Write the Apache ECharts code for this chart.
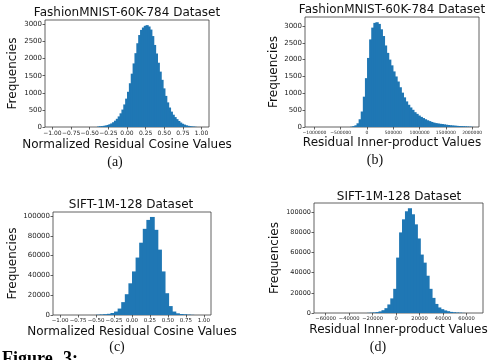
<!DOCTYPE html>
<html>
<head>
<meta charset="utf-8">
<script src="https://cdn.jsdelivr.net/npm/echarts@6/dist/echarts.min.js"></script>
<style>
  html, body { margin: 0; padding: 0; background: #fff; }
  #chart { width: 489px; height: 360px; }
</style>
</head>
<body>
<div id="chart"></div>
<script>
// ---- Histogram data: first bin edge, bin width, counts per bin ----
const fashionCosStart = -0.4;
const fashionCosBin = 0.025;
const fashionCosCounts = [15, 20, 25, 35, 45, 60, 80, 105, 140, 185,
  240, 310, 400, 510, 660, 830, 1030, 1280, 1560, 1860,
  2160, 2450, 2690, 2840, 2910, 2960, 2980, 2940, 2850, 2660,
  2400, 2150, 1880, 1620, 1380, 1130, 910, 720, 570, 450,
  360, 290, 230, 175, 130, 95, 70, 50, 35, 25,
  15, 10, 5];

const fashionIpStart = -320000;
const fashionIpBin = 40000;
const fashionIpCounts = [10, 25, 50, 110, 230, 460, 900, 1450, 2050, 2600,
  2950, 3090, 3110, 3060, 2900, 2700, 2420, 2200, 2000, 1830,
  1650, 1500, 1350, 1180, 1020, 880, 760, 660, 580, 510,
  440, 390, 340, 300, 265, 230, 200, 175, 150, 130,
  115, 105, 95, 88, 78, 68, 60, 52, 45, 40,
  35, 30, 26, 22, 18, 14, 10, 6];

const siftCosStart = -0.5;
const siftCosBin = 0.05;
const siftCosCounts = [300, 500, 800, 1200, 2000, 3500, 6500, 13000, 21000, 32000,
  44000, 58000, 73000, 87000, 96000, 99000, 86000, 66000, 44000, 22000,
  9000, 3500, 1700, 1000, 700, 400, 200];

const siftIpStart = -25000;
const siftIpBin = 2500;
const siftIpCounts = [150, 300, 500, 900, 1600, 2800, 4800, 8500, 14500, 24000,
  55000, 80000, 93000, 101000, 104000, 98000, 88000, 74000, 58000, 50000,
  37000, 24000, 15000, 9000, 5500, 3800, 2600, 1800, 1100, 700,
  450, 300, 150];

// ---- Tick values ----
const cosTicks = [-1, -0.75, -0.5, -0.25, 0, 0.25, 0.5, 0.75, 1];
const fashionIpTicks = [-1000000, -500000, 0, 500000, 1000000, 1500000, 2000000];
const siftIpTicks = [-60000, -40000, -20000, 0, 20000, 40000, 60000];
const fashionFreqTicks = [0, 500, 1000, 1500, 2000, 2500, 3000];
const siftFreqTicks = [0, 20000, 40000, 60000, 80000, 100000];

// ---- Texts ----
const panelTitles = ['FashionMNIST-60K-784 Dataset', 'FashionMNIST-60K-784 Dataset',
  'SIFT-1M-128 Dataset', 'SIFT-1M-128 Dataset'];
const xTitles = ['Normalized Residual Cosine Values', 'Residual Inner-product Values',
  'Normalized Residual Cosine Values', 'Residual Inner-product Values'];
const yTitle = 'Frequencies';
const panelTags = ['(a)', '(b)', '(c)', '(d)'];

const BAR_COLOR = '#1f77b4';
const SANS = 'DejaVu Sans';
const SERIF = 'Liberation Serif';
const MINUS = '\u2212';

function toBins(start, width, counts) {
  return counts.map((c, i) => [start + i * width, start + (i + 1) * width, c]);
}
function fmtFixed2(v) {
  const s = Math.abs(v).toFixed(2);
  return v < 0 ? MINUS + s : s;
}
function fmtInt(v) {
  const s = String(Math.abs(Math.round(v)));
  return v < 0 ? MINUS + s : s;
}

const panels = [
  { grid: { left: 45, top: 20, width: 164, height: 107 },
    data: toBins(fashionCosStart, fashionCosBin, fashionCosCounts),
    xMin: -1.1, xMax: 1.1, yMax: 3130,
    xTicks: cosTicks, yTicks: fashionFreqTicks, xFmt: fmtFixed2,
    xFont: 6, yFont: 7, xGap: 12, yGap: 26,
    title: [127, 13], tag: [115, 162] },
  { grid: { left: 305, top: 17, width: 174, height: 110 },
    data: toBins(fashionIpStart, fashionIpBin, fashionIpCounts),
    xMin: -1180000, xMax: 2130000, yMax: 3265,
    xTicks: fashionIpTicks, yTicks: fashionFreqTicks, xFmt: fmtInt,
    xFont: 4.5, yFont: 7, xGap: 10, yGap: 24,
    title: [392, 10], tag: [375, 160] },
  { grid: { left: 53, top: 212, width: 158, height: 103 },
    data: toBins(siftCosStart, siftCosBin, siftCosCounts),
    xMin: -1.1, xMax: 1.1, yMax: 104000,
    xTicks: cosTicks, yTicks: siftFreqTicks, xFmt: fmtFixed2,
    xFont: 5.5, yFont: 7, xGap: 11, yGap: 34,
    title: [131, 205], tag: [117, 347] },
  { grid: { left: 314, top: 203, width: 169, height: 110 },
    data: toBins(siftIpStart, siftIpBin, siftIpCounts),
    xMin: -70000, xMax: 74000, yMax: 109200,
    xTicks: siftIpTicks, yTicks: siftFreqTicks, xFmt: fmtInt,
    xFont: 5.2, yFont: 6.5, xGap: 11, yGap: 33,
    title: [399, 197], tag: [378, 347] }
];

// One histogram bin: a rect from the bin's left edge to its right edge, from 0 up to its count.
function drawBin(params, api) {
  const top = api.coord([api.value(0), api.value(2)]);
  const base = api.coord([api.value(1), 0]);
  return {
    type: 'rect',
    shape: { x: top[0], y: top[1], width: base[0] - top[0] + 1.2, height: base[1] - top[1] },
    style: { fill: BAR_COLOR, stroke: null, lineWidth: 0, opacity: 1 },
    emphasisDisabled: true
  };
}

const frameColor = '#3a3a3a';
const option = {
  animation: false,
  backgroundColor: '#ffffff',
  grid: panels.map(p => Object.assign({
    show: true, borderColor: frameColor, borderWidth: 0.8,
    containLabel: false, outerBoundsMode: 'none'
  }, p.grid)),
  xAxis: panels.map((p, i) => ({
    gridIndex: i, type: 'value', min: p.xMin, max: p.xMax,
    splitLine: { show: false },
    axisLine: { show: false, onZero: false },
    axisTick: { show: true, length: 2.5, customValues: p.xTicks,
      lineStyle: { color: frameColor, width: 0.8 } },
    axisLabel: { customValues: p.xTicks, formatter: p.xFmt, fontSize: p.xFont,
      fontFamily: SANS, color: '#222', margin: 3 },
    name: xTitles[i], nameLocation: 'middle', nameGap: p.xGap,
    nameTextStyle: { fontSize: 12, fontFamily: SANS, color: '#111' }
  })),
  yAxis: panels.map((p, i) => ({
    gridIndex: i, type: 'value', min: 0, max: p.yMax,
    splitLine: { show: false },
    axisLine: { show: false, onZero: false },
    axisTick: { show: true, length: 2.5, customValues: p.yTicks,
      lineStyle: { color: frameColor, width: 0.8 } },
    axisLabel: { customValues: p.yTicks, formatter: fmtInt, fontSize: p.yFont,
      fontFamily: SANS, color: '#222', margin: 3 },
    name: yTitle, nameLocation: 'middle', nameGap: p.yGap,
    nameTextStyle: { fontSize: 12, fontFamily: SANS, color: '#111' }
  })),
  series: panels.map((p, i) => ({
    type: 'custom', xAxisIndex: i, yAxisIndex: i,
    renderItem: drawBin, clip: true,
    itemStyle: { color: BAR_COLOR, borderWidth: 0 },
    encode: { x: [0, 1], y: 2 },
    data: p.data
  })),
  graphic: [].concat(
    panels.map((p, i) => ({
      type: 'text', x: p.title[0], y: p.title[1], silent: true,
      style: { text: panelTitles[i], fontSize: 12, fontFamily: SANS, fill: '#111',
        textAlign: 'center', textVerticalAlign: 'middle' }
    })),
    panels.map((p, i) => ({
      type: 'text', x: p.tag[0], y: p.tag[1], silent: true,
      style: { text: panelTags[i], fontSize: 14, fontFamily: SERIF, fill: '#111',
        textAlign: 'center', textVerticalAlign: 'middle' }
    })),
    [
      { type: 'text', x: 2, y: 350, silent: true,
        style: { text: 'Figure', fontSize: 18, fontWeight: 'bold', fontFamily: SERIF,
          fill: '#000', textAlign: 'left', textVerticalAlign: 'top' } },
      { type: 'text', x: 63, y: 350, silent: true,
        style: { text: '3:', fontSize: 18, fontWeight: 'bold', fontFamily: SERIF,
          fill: '#000', textAlign: 'left', textVerticalAlign: 'top' } }
    ]
  )
};

const chart = echarts.init(document.getElementById('chart'), null, { renderer: 'canvas' });
chart.setOption(option);
</script>
</body>
</html>
